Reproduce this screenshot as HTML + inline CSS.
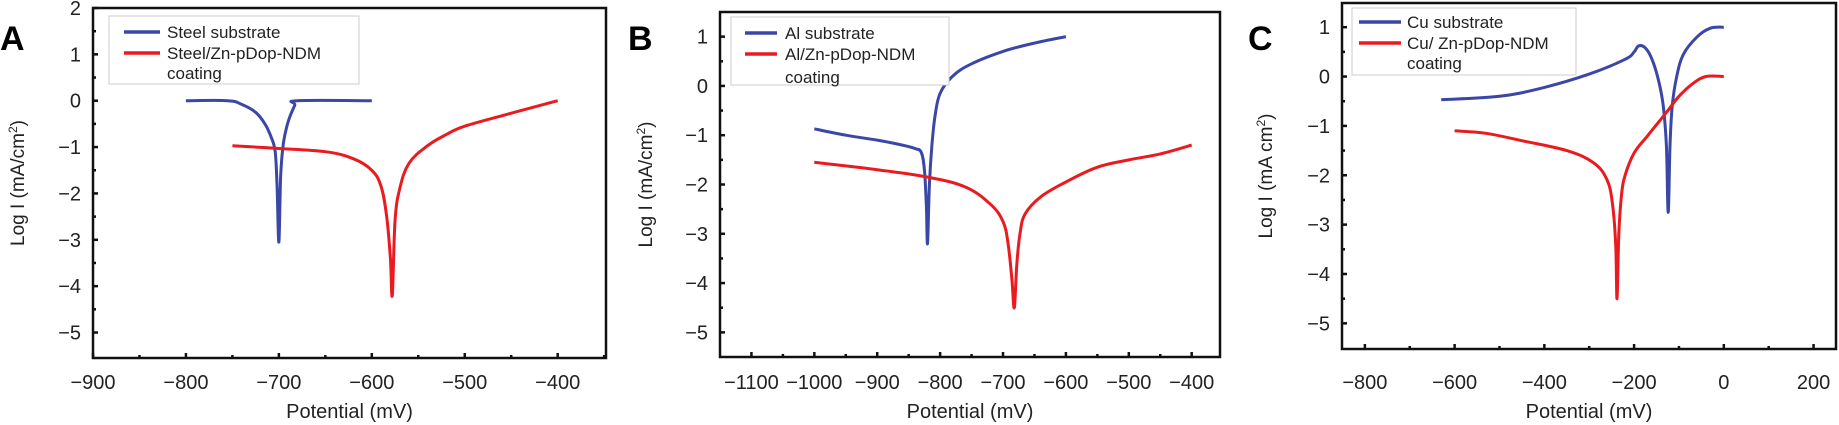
<!DOCTYPE html>
<html><head><meta charset="utf-8"><style>
body{margin:0;background:#fff;width:1839px;height:425px;overflow:hidden}
svg{display:block;font-family:"Liberation Sans",Arial,sans-serif}
</style></head><body>
<svg id="s" width="1839" height="425"></svg>
<script>
const aBlueX=[-800,-755,-740,-725,-715,-708,-704,-702,-700,-698,-695,-690,-683,-680,-600];
const aBlueY=[0,0,-0.08,-0.25,-0.5,-0.8,-1.1,-1.8,-3.05,-1.6,-0.9,-0.45,-0.1,0,0];
const aRedX=[-750,-700,-650,-620,-600,-590,-584,-580,-578,-575,-570,-560,-540,-520,-500,-450,-400];
const aRedY=[-0.97,-1.03,-1.1,-1.25,-1.5,-1.85,-2.5,-3.4,-4.2,-2.6,-1.9,-1.35,-0.97,-0.73,-0.55,-0.27,0];
const bBlueX=[-1000,-950,-900,-860,-840,-830,-825,-822,-820,-817,-813,-808,-800,-780,-750,-700,-650,-600];
const bBlueY=[-0.87,-1.0,-1.1,-1.2,-1.27,-1.35,-1.7,-2.4,-3.2,-2.0,-1.2,-0.6,-0.15,0.2,0.45,0.7,0.87,1.0];
const bRedX=[-1000,-900,-820,-760,-720,-700,-692,-686,-682,-678,-673,-665,-640,-600,-550,-500,-450,-400];
const bRedY=[-1.55,-1.7,-1.85,-2.05,-2.4,-2.75,-3.2,-3.9,-4.5,-3.6,-3.0,-2.6,-2.25,-1.95,-1.65,-1.5,-1.38,-1.2];
const cBlueX=[-630,-500,-400,-300,-220,-200,-190,-175,-160,-145,-135,-128,-124,-120,-115,-105,-90,-60,-30,0];
const cBlueY=[-0.47,-0.4,-0.22,0.05,0.35,0.5,0.62,0.58,0.35,-0.1,-0.6,-1.4,-2.75,-1.4,-0.6,0,0.45,0.8,0.98,1.0];
const cRedX=[-600,-530,-450,-350,-290,-260,-248,-241,-238,-234,-228,-220,-200,-170,-130,-100,-70,-40,0];
const cRedY=[-1.1,-1.15,-1.3,-1.5,-1.75,-2.1,-2.6,-3.4,-4.5,-3.2,-2.4,-2.0,-1.55,-1.2,-0.75,-0.4,-0.15,0,0];
const aXTicks=[-900,-800,-700,-600,-500,-400];
const bXTicks=[-1100,-1000,-900,-800,-700,-600,-500,-400];
const cXTicks=[-800,-600,-400,-200,0,200];
const yTicksA=[2,1,0,-1,-2,-3,-4,-5];
const yTicksBC=[1,0,-1,-2,-3,-4,-5];

const NS="http://www.w3.org/2000/svg", S=document.getElementById('s');
function el(t,a,p){const e=document.createElementNS(NS,t);for(const k in a)e.setAttribute(k,a[k]);(p||S).appendChild(e);return e;}
function fmt(v){return v<0?'\u2212'+(-v):''+v;}
function smooth(P){
  let d='M'+P[0][0].toFixed(1)+','+P[0][1].toFixed(1);
  for(let i=0;i<P.length-1;i++){
    const p0=P[i-1]||P[i],p1=P[i],p2=P[i+1],p3=P[i+2]||P[i+1],k=0.18;
    const c1=[p1[0]+(p2[0]-p0[0])*k,p1[1]+(p2[1]-p0[1])*k];
    const c2=[p2[0]-(p3[0]-p1[0])*k,p2[1]-(p3[1]-p1[1])*k];
    d+='C'+c1[0].toFixed(1)+','+c1[1].toFixed(1)+' '+c2[0].toFixed(1)+','+c2[1].toFixed(1)+' '+p2[0].toFixed(1)+','+p2[1].toFixed(1);
  }
  return d;
}

function panel(o){
  const g=el('g',{});
  
  
  const sx=v=>o.L+(v-o.x0)/(o.x1-o.x0)*(o.R-o.L);
  const sy=v=>o.B-(v-o.y0)/(o.y1-o.y0)*(o.B-o.T);
  const fr=el('rect',{x:o.L,y:o.T,width:o.R-o.L,height:o.B-o.T,fill:'none',stroke:'#111','stroke-width':2.5},g);
  
  
  o.xt.forEach(v=>{
    const x=sx(v);
    const tk=el('line',{x1:x,x2:x,y1:o.B,y2:o.B-5,stroke:'#111','stroke-width':2.5},g);
    
    
    const t=el('text',{x:x,y:389,'font-size':20,'text-anchor':'middle',fill:'#222'},g);
    t.textContent=fmt(v);
    
    
  });
  for(let v=o.xt[0]+o.xm;v<o.x1;v+=o.xm*2){const x=sx(v);el('line',{x1:x,x2:x,y1:o.B,y2:o.B-3,stroke:'#111','stroke-width':2.5},g);}
  o.yt.forEach(v=>{
    const y=sy(v);
    el('line',{x1:o.L,x2:o.L+5,y1:y,y2:y,stroke:'#111','stroke-width':2.5},g);
    const t=el('text',{x:o.L-12,y:y+7,'font-size':20,'text-anchor':'end',fill:'#222'},g);
    t.textContent=fmt(v);
    
    
  });
  for(let v=-4.5;v<o.y1;v+=1){const y=sy(v);el('line',{x1:o.L,x2:o.L+3,y1:y,y2:y,stroke:'#111','stroke-width':2.5},g);}
  [[o.bx,o.by,'#3a47a6','blue-series'],[o.rx,o.ry,'#ea1b1f','red-series']].forEach(([X,Y,c,n])=>{
    const P=X.map((v,i)=>[sx(v),sy(Y[i])]);
    const p=el('path',{d:smooth(P),fill:'none',stroke:c,'stroke-width':3,'stroke-linejoin':'round'},g);
    
    
  });
  const lg=el('g',{},g);
  
  
  const q=o.lg;
  el('rect',{x:q.x,y:q.y,width:q.w,height:q.h,fill:'#fff',stroke:'#ccc','stroke-width':1},lg);
  el('line',{x1:q.lx1,x2:q.lx2,y1:q.b,y2:q.b,stroke:'#3a47a6','stroke-width':3.5},lg);
  el('line',{x1:q.lx1,x2:q.lx2,y1:q.r,y2:q.r,stroke:'#ea1b1f','stroke-width':3.5},lg);
  [[q.t1,q.b],[q.t2,q.r],['coating',q.c]].forEach(([s,y])=>{const t=el('text',{x:q.tx,y:y+6,'font-size':17,fill:'#222'},lg);t.textContent=s;});
  const yl=el('text',{x:0,y:0,'font-size':19,'text-anchor':'middle',fill:'#222',transform:`translate(${o.yx},${(o.T+o.B)/2}) rotate(-90)`},g);
  yl.innerHTML=o.ylab;
  
  
  const xl=el('text',{x:(o.L+o.R)/2,y:418,'font-size':20,'text-anchor':'middle',fill:'#222'},g);
  xl.textContent='Potential (mV)';
  
  
  const pl=el('text',{x:o.px,y:50,'font-size':34,'font-weight':'bold',fill:'#000'},g);
  pl.textContent=o.id;
  
  
}
panel({id:'A',L:93,R:606,T:8,B:358,x0:-900,x1:-348,y0:-5.55,y1:2.0,xt:aXTicks,xm:50,yt:yTicksA,
 bx:aBlueX,by:aBlueY,rx:aRedX,ry:aRedY,yx:24,px:0,
 ylab:'Log I (mA/cm<tspan dy="-7" font-size="12">2</tspan><tspan dy="7">)</tspan>',
 lg:{x:109,y:16,w:250,h:68,lx1:124,lx2:160,b:32,r:53,c:73,tx:167,t1:'Steel substrate',t2:'Steel/Zn-pDop-NDM'}});
panel({id:'B',L:720,R:1220,T:12,B:357,x0:-1150,x1:-355,y0:-5.5,y1:1.5,xt:bXTicks,xm:50,yt:yTicksBC,
 bx:bBlueX,by:bBlueY,rx:bRedX,ry:bRedY,yx:652,px:628,
 ylab:'Log I (mA/cm<tspan dy="-7" font-size="12">2</tspan><tspan dy="7">)</tspan>',
 lg:{x:731,y:17,w:218,h:68,lx1:745,lx2:777,b:33,r:54,c:77,tx:785,t1:'Al substrate',t2:'Al/Zn-pDop-NDM'}});
panel({id:'C',L:1342,R:1836,T:3,B:349,x0:-851,x1:250,y0:-5.52,y1:1.49,xt:cXTicks,xm:100,yt:yTicksBC,
 bx:cBlueX,by:cBlueY,rx:cRedX,ry:cRedY,yx:1272,px:1248,
 ylab:'Log I (mA cm<tspan dy="-7" font-size="12">2</tspan><tspan dy="7">)</tspan>',
 lg:{x:1352,y:8,w:224,h:67,lx1:1359,lx2:1401,b:22,r:43,c:63,tx:1407,t1:'Cu substrate',t2:'Cu/ Zn-pDop-NDM'}});
</script>
</body></html>
